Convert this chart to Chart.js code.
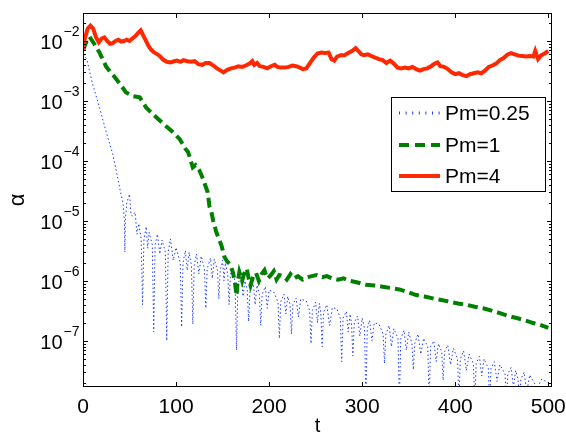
<!DOCTYPE html>
<html>
<head>
<meta charset="utf-8">
<script src="https://cdn.jsdelivr.net/npm/chart.js@4"></script>
<style>
html,body{margin:0;padding:0;background:#fff;}
canvas{display:block;}
</style>
</head>
<body>
<canvas id="c" width="566" height="433"></canvas>
<script>
// ---- data ----
const seriesNames = ["Pm=0.25", "Pm=1", "Pm=4"];
const xTicks = [0, 100, 200, 300, 400, 500];
const yTickExps = [-7, -6, -5, -4, -3, -2];

// Pm=0.25 (blue dotted)
const tB = [0,4,10,18,25,32,37,40,
  43,44.5,45,45.5,47,50,51.5,53,56,58,60,
  62.5,64,65.5,68,69.5,71,
  74.5,76,77.5,80,82.5,85,
  88.5,90,91.5,94,97,100,
  104.5,106,107.5,110,112,114,
  116.5,118,119.5,122,124.5,127,
  130.5,132,133.5,137,139,141,
  144.5,146,147.5,150,151.5,153,
  155.5,157,158.5,161,
  163.5,165,166.5,170,172,174,
  176.5,178,179.5,183,185,187,
  189.5,191,192.5,196,198,200,205,
  209.5,211,212.5,216,218,220,
  222.5,224,225.5,229,231.5,234,240,
  243.5,245,246.5,250,252,254,
  255.5,257,258.5,262,265,268,273,
  276.5,278,279.5,283,285,287,
  288.5,290,291.5,295,297.5,300,
  302.5,304,305.5,308,310.5,313,318,
  322.5,324,325.5,329,331.5,334,
  338.5,340,341.5,345,347.5,350,
  353.5,355,356.5,360,363,366,
  370.5,372,373.5,377,379.5,382,
  385.5,387,388.5,392,395,398,
  402.5,404,405.5,409,412,415,
  419.5,421,422.5,426,428.5,431,
  435.5,437,438.5,442,445,448,
  453.5,455,456.5,460,462.5,465,
  467.5,469,470.5,474,477,480,
  486.5,488,489.5,493,500];
const vB = [6e-3,5e-3,2e-3,7.5e-4,3e-4,1.3e-4,5.5e-5,3.2e-5,
  2e-5,1e-5,3e-6,1e-5,2e-5,2.8e-5,1.3e-5,1.2e-5,1.4e-5,6e-6,9e-6,
  5e-6,4e-7,5e-6,8e-6,3.5e-6,6.5e-6,
  4e-6,1.4e-7,4e-6,6e-6,2.8e-6,4.8e-6,
  3e-6,1e-7,3e-6,5e-6,2.2e-6,3.6e-6,
  2e-6,1.7e-7,2e-6,3.2e-6,1.5e-6,3e-6,
  1.8e-6,1.9e-7,1.8e-6,2.8e-6,1.3e-6,2.6e-6,
  1.6e-6,3.5e-7,1.6e-6,2.4e-6,1.1e-6,2.3e-6,
  1.5e-6,5e-7,1.5e-6,2.2e-6,1e-6,2e-6,
  1.3e-6,4e-7,1.3e-6,1.6e-6,
  9e-7,7e-8,9e-7,1.2e-6,5.5e-7,1e-6,
  7e-7,2.1e-7,7e-7,9e-7,4e-7,8.5e-7,
  6e-7,1.8e-7,6e-7,8e-7,3.5e-7,7e-7,6.5e-7,
  4.5e-7,1.1e-7,4.5e-7,6e-7,2.8e-7,5.5e-7,
  4e-7,1.3e-7,4e-7,5.2e-7,2.5e-7,5e-7,4.6e-7,
  3.2e-7,9e-8,3.2e-7,4.4e-7,2e-7,4.2e-7,
  3e-7,8e-8,3e-7,4e-7,1.8e-7,3.6e-7,3.4e-7,
  2.4e-7,4.5e-8,2.4e-7,3.1e-7,1.4e-7,2.8e-7,
  2e-7,5.6e-8,2e-7,2.6e-7,1.2e-7,2.4e-7,
  1.6e-7,1e-8,1.6e-7,2.2e-7,1e-7,2e-7,1.9e-7,
  1.3e-7,4.2e-8,1.3e-7,1.8e-7,8e-8,1.6e-7,
  1.1e-7,1e-8,1.1e-7,1.5e-7,7e-8,1.4e-7,
  9e-8,3.3e-8,9e-8,1.3e-7,6e-8,1.1e-7,
  8e-8,1e-8,8e-8,1e-7,4.5e-8,9e-8,
  6.5e-8,2.2e-8,6.5e-8,8.5e-8,4e-8,7.5e-8,
  5e-8,1e-8,5e-8,6.8e-8,3.2e-8,6e-8,
  4.2e-8,1e-8,4.2e-8,5.5e-8,2.6e-8,5e-8,
  3.5e-8,1e-8,3.5e-8,4.5e-8,2.1e-8,4e-8,
  2.8e-8,1e-8,2.8e-8,3.6e-8,1.7e-8,3.2e-8,
  2.3e-8,1e-8,2.3e-8,3e-8,1.4e-8,2.7e-8,
  1.8e-8,1e-8,1.8e-8,2.3e-8,2e-8];

// Pm=1 (green dashed)
const tG = [0,4,7,12,18,25,34,40,46,54,61,68,79,90,97,104,110,113,118,121,125,129,134,136,138,140,143,146,149,152,155,158,161,163,165,166,168,171,173,176,178,180,183,186,189,192,195,198,201,205,208,211,215,219,223,227,231,236,241,246,251,257,262,268,274,280,287,294,304,313,322,331,340,349,358,367,376,385,394,403,412,421,430,439,448,457,466,475,483,491,500];
const vG = [7e-3,1e-2,1.17e-2,9e-3,6.3e-3,3.7e-3,2.5e-3,1.9e-3,1.4e-3,1.2e-3,1.15e-3,7.7e-4,5.3e-4,3.7e-4,3e-4,2.3e-4,1.6e-4,1.4e-4,7.8e-5,8.5e-5,7e-5,5e-5,3e-5,1.7e-5,1.4e-5,1e-5,6.7e-6,5e-6,3.8e-6,2.5e-6,2.1e-6,1.9e-6,1.4e-6,1e-6,5.7e-7,9e-7,1.4e-6,1e-6,1.3e-6,1.6e-6,1.1e-6,8.4e-7,1.2e-6,1.35e-6,1e-6,1.3e-6,1.5e-6,1.1e-6,1.2e-6,1.45e-6,1.05e-6,1.25e-6,1.2e-6,1.05e-6,1.3e-6,1.1e-6,1.2e-6,1.05e-6,1.15e-6,1.2e-6,1.25e-6,1.15e-6,1.2e-6,1.1e-6,1.05e-6,1.1e-6,1e-6,9.5e-7,8.6e-7,8.4e-7,8e-7,7.6e-7,7.2e-7,6.5e-7,5.8e-7,5.5e-7,5.1e-7,4.8e-7,4.5e-7,4.2e-7,4e-7,3.7e-7,3.5e-7,3.2e-7,2.9e-7,2.6e-7,2.4e-7,2.2e-7,2e-7,1.85e-7,1.65e-7];

// Pm=4 (red solid)
const tR = [0,2,5,8,11,14,17,20,23,26,29,32,35,38,41,44,47,50,53,56,59,62,64,67,70,73,76,80,83,86,90,94,98,101,105,108,112,116,120,124,128,132,136,140,144,148,151,155,159,163,167,171,175,179,182,184,187,190,194,198,202,206,209,213,217,221,225,229,233,236,240,244,248,252,256,260,264,267,270,273,277,281,285,289,293,296,299,302,306,310,314,318,322,326,330,334,338,342,346,350,354,358,362,366,370,374,378,381,384,388,392,396,400,404,408,412,416,420,424,428,432,436,440,444,448,452,456,460,464,468,472,476,480,484,486,489,492,496,500];
const vR = [7e-3,1.1e-2,1.6e-2,1.8e-2,1.6e-2,1.15e-2,9.5e-3,1.1e-2,1.15e-2,1e-2,9e-3,9.2e-3,1e-2,1.05e-2,9.8e-3,1e-2,1.05e-2,1e-2,1.1e-2,1.2e-2,1.35e-2,1.5e-2,1.3e-2,1.05e-2,8.5e-3,7.2e-3,6.5e-3,6e-3,5.5e-3,4.9e-3,4.5e-3,4.4e-3,4.6e-3,4.7e-3,4.5e-3,4.8e-3,4.6e-3,4.5e-3,4.6e-3,4.1e-3,4e-3,4.3e-3,4.3e-3,3.9e-3,3.5e-3,3.2e-3,3e-3,3.3e-3,3.5e-3,3.6e-3,3.8e-3,3.7e-3,3.9e-3,4.2e-3,4.6e-3,4e-3,4.3e-3,3.8e-3,3.7e-3,3.5e-3,3.8e-3,4e-3,3.7e-3,3.6e-3,3.6e-3,3.7e-3,3.9e-3,3.8e-3,3.6e-3,3.4e-3,3.5e-3,4.3e-3,5.3e-3,6.2e-3,6.4e-3,6.3e-3,6.4e-3,5e-3,4.7e-3,5.5e-3,5.8e-3,5.8e-3,6.3e-3,6.8e-3,7.6e-3,6.8e-3,6e-3,5.8e-3,6e-3,5.6e-3,5.3e-3,5e-3,4.8e-3,4.3e-3,4.7e-3,4.2e-3,3.6e-3,3.5e-3,3.6e-3,3.5e-3,3.7e-3,3.4e-3,3.2e-3,3.4e-3,3.5e-3,3.8e-3,4.2e-3,4.4e-3,3.8e-3,3.7e-3,3.4e-3,3e-3,2.8e-3,2.9e-3,2.7e-3,2.6e-3,2.8e-3,2.9e-3,3e-3,2.9e-3,3.2e-3,3.7e-3,3.9e-3,4.2e-3,4.8e-3,5.2e-3,5.9e-3,6.3e-3,6e-3,5.7e-3,5.6e-3,5.5e-3,5.6e-3,5.5e-3,6.8e-3,5e-3,5.7e-3,6.2e-3,6.8e-3];

const xMin = 0, xMax = 504;
const yMin = 1.7e-8, yMax = 2.93e-2;

// ---- styles ----
const FONT = '"Liberation Sans", Arial, Helvetica, sans-serif';
const colB = 'rgb(30,60,255)';
const colG = 'rgb(0,128,0)';
const colR = 'rgb(255,40,0)';

function pts(t, v) { return t.map((x, i) => ({x: x, y: v[i]})); }

const decor = {
  id: 'decor',
  afterDatasetsDraw(chart) {
    const ctx = chart.ctx;
    const a = chart.chartArea;
    const xs = chart.scales.x, ys = chart.scales.y;
    ctx.save();
    ctx.strokeStyle = '#000';
    ctx.lineWidth = 1;
    ctx.setLineDash([]);
    ctx.strokeRect(Math.round(a.left) + 0.5, Math.round(a.top) + 0.5,
      Math.round(a.right - a.left) - 1, Math.round(a.bottom - a.top) - 1);
    ctx.beginPath();
    xTicks.forEach(v => {
      const px = Math.round(xs.getPixelForValue(v)) + 0.5;
      ctx.moveTo(px, a.bottom); ctx.lineTo(px, a.bottom - 5);
      ctx.moveTo(px, a.top); ctx.lineTo(px, a.top + 5);
    });
    for (let e = -9; e <= -1; e++) {
      for (let m = 1; m <= 9; m++) {
        const val = m * Math.pow(10, e);
        if (val < yMin || val > yMax) continue;
        const py = Math.round(ys.getPixelForValue(val)) + 0.5;
        const len = (m === 1) ? 5 : 3;
        ctx.moveTo(a.left, py); ctx.lineTo(a.left + len, py);
        ctx.moveTo(a.right, py); ctx.lineTo(a.right - len, py);
      }
    }
    ctx.stroke();
    ctx.fillStyle = '#000';
    ctx.font = '21px ' + FONT;
    ctx.textAlign = 'center';
    ctx.textBaseline = 'alphabetic';
    xTicks.forEach(v => {
      ctx.fillText(String(v), xs.getPixelForValue(v), 413);
    });
    ctx.font = '20px ' + FONT;
    ctx.fillText('t', (a.left + a.right) / 2, 432);
    yTickExps.forEach(e => {
      const py = ys.getPixelForValue(Math.pow(10, e));
      ctx.font = '20px ' + FONT;
      ctx.textAlign = 'right';
      ctx.fillText('10', 62.5, py + 8);
      ctx.font = '14px ' + FONT;
      ctx.textAlign = 'left';
      ctx.fillText('\u2212' + String(-e), 63.5, py - 4.5);
    });
    ctx.save();
    ctx.translate(18, 200);
    ctx.rotate(-Math.PI / 2);
    ctx.font = '22px ' + FONT;
    ctx.textAlign = 'center';
    ctx.textBaseline = 'middle';
    ctx.fillText('\u03b1', 0, 0);
    ctx.restore();
    const lx = 391.5, ly = 97.5, lw = 154, lh = 94;
    ctx.fillStyle = '#fff';
    ctx.fillRect(lx, ly, lw, lh);
    ctx.strokeStyle = '#000';
    ctx.lineWidth = 1;
    ctx.strokeRect(lx, ly, lw, lh);
    const rows = [
      {y: 113, color: colB, w: 3, dash: [1, 5.6]},
      {y: 145, color: colG, w: 4, dash: [10, 6]},
      {y: 176, color: colR, w: 4, dash: []}
    ];
    rows.forEach((r, i) => {
      ctx.beginPath();
      ctx.strokeStyle = r.color;
      ctx.lineWidth = r.w;
      ctx.setLineDash(r.dash);
      ctx.moveTo(399, r.y); ctx.lineTo(440, r.y);
      ctx.stroke();
      ctx.setLineDash([]);
      ctx.fillStyle = '#000';
      ctx.font = '21px ' + FONT;
      ctx.textAlign = 'left';
      ctx.textBaseline = 'middle';
      ctx.fillText(seriesNames[i], 445, r.y + 1);
    });
    ctx.restore();
  }
};

new Chart(document.getElementById('c'), {
  type: 'line',
  data: {
    datasets: [
      {label: seriesNames[2], data: pts(tR, vR), borderColor: colR, borderWidth: 4, pointRadius: 0, order: 1, tension: 0},
      {label: seriesNames[1], data: pts(tG, vG), borderColor: colG, borderWidth: 4, borderDash: [10, 5], pointRadius: 0, order: 2, tension: 0},
      {label: seriesNames[0], data: pts(tB, vB), borderColor: colB, borderWidth: 1, borderDash: [1.5, 2.5], pointRadius: 0, order: 3, tension: 0}
    ]
  },
  options: {
    responsive: false,
    animation: false,
    events: [],
    layout: {padding: {left: 83, top: 13, right: 14, bottom: 46}},
    plugins: {legend: {display: false}, tooltip: {enabled: false}},
    scales: {
      x: {type: 'linear', min: xMin, max: xMax, display: false},
      y: {type: 'logarithmic', min: yMin, max: yMax, display: false}
    }
  },
  plugins: [decor]
});
</script>
</body>
</html>
